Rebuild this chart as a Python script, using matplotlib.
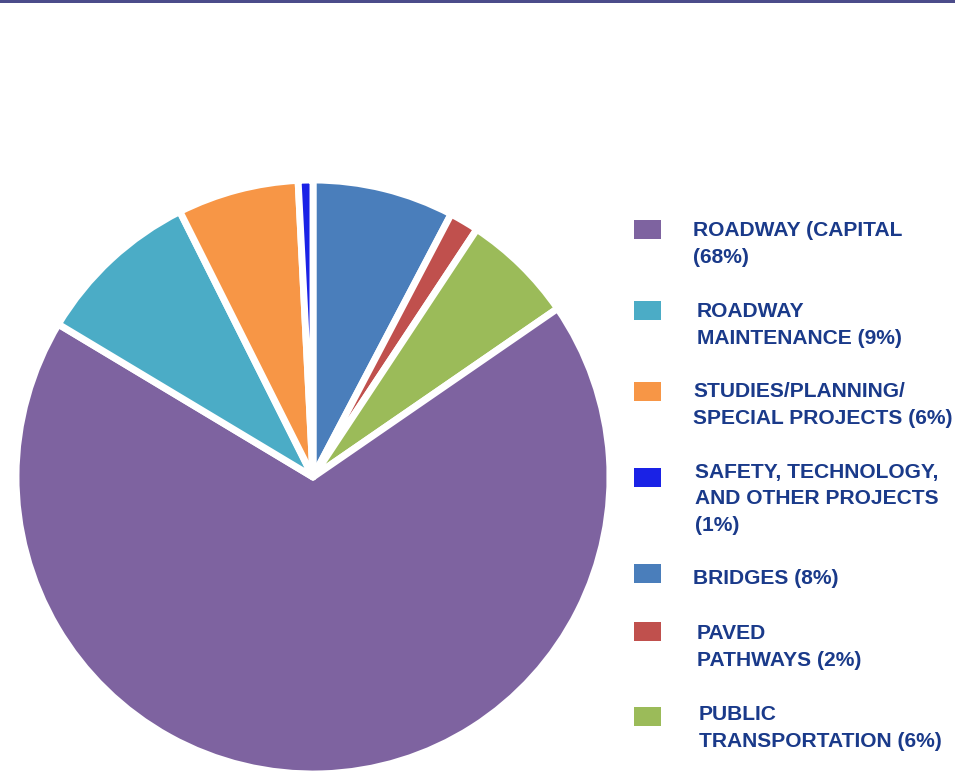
import matplotlib.pyplot as plt
from matplotlib.patches import Rectangle

# slices, clockwise from 12 o'clock
names = ['BRIDGES', 'PAVED PATHWAYS', 'PUBLIC TRANSPORTATION', 'ROADWAY (CAPITAL',
         'ROADWAY MAINTENANCE', 'STUDIES/PLANNING/SPECIAL PROJECTS',
         'SAFETY, TECHNOLOGY, AND OTHER PROJECTS']
shares = [7.7, 1.6, 6.1, 68.2, 9.0, 6.6, 0.8]
colors = ['#4a7ebb', '#c0504d', '#9bbb59', '#7e63a0', '#4bacc6', '#f79646', '#1a22e6']

# legend order and wrapped labels
legend_idx = [3, 4, 5, 6, 0, 1, 2]
legend_text = ['ROADWAY (CAPITAL\n(68%)',
               'ROADWAY\nMAINTENANCE (9%)',
               'STUDIES/PLANNING/\nSPECIAL PROJECTS (6%)',
               'SAFETY, TECHNOLOGY,\nAND OTHER PROJECTS\n(1%)',
               'BRIDGES (8%)',
               'PAVED\nPATHWAYS (2%)',
               'PUBLIC\nTRANSPORTATION (6%)']

W, H = 955, 772
fig = plt.figure(figsize=(W / 100, H / 100), dpi=100)

# thin band across the top
fig.add_artist(Rectangle((0, 1 - 3 / H), 1, 3 / H, transform=fig.transFigure,
                         color='#4b4c8a', lw=0))

cx, cy, r = 313, 477, 297
ax = fig.add_axes([(cx - r) / W, (H - cy - r) / H, 2 * r / W, 2 * r / H])
ax.pie(shares, colors=colors, startangle=90, counterclock=False,
       wedgeprops=dict(edgecolor='white', linewidth=5, joinstyle='round'))
ax.set_xlim(-1, 1)
ax.set_ylim(-1, 1)
ax.set_aspect('equal')
ax.axis('off')

# legend: square + text, placed by hand
sq_y = [230, 311, 392, 478, 574, 632, 717]
txt_x = [693, 697, 693, 695, 693, 697, 699]
txt_y = [244, 325, 405, 499, 578, 647, 728]
for k, i in enumerate(legend_idx):
    fig.add_artist(Rectangle((634 / W, 1 - (sq_y[k] + 9) / H), 27 / W, 19 / H,
                             transform=fig.transFigure, color=colors[i], lw=0))
    fig.text(txt_x[k] / W, 1 - txt_y[k] / H, legend_text[k], ha='left', va='center',
             fontsize=15.1, fontweight='bold', color='#1a3a8a',
             family='Liberation Sans', linespacing=1.47)

fig.savefig('out.png', dpi=100)
